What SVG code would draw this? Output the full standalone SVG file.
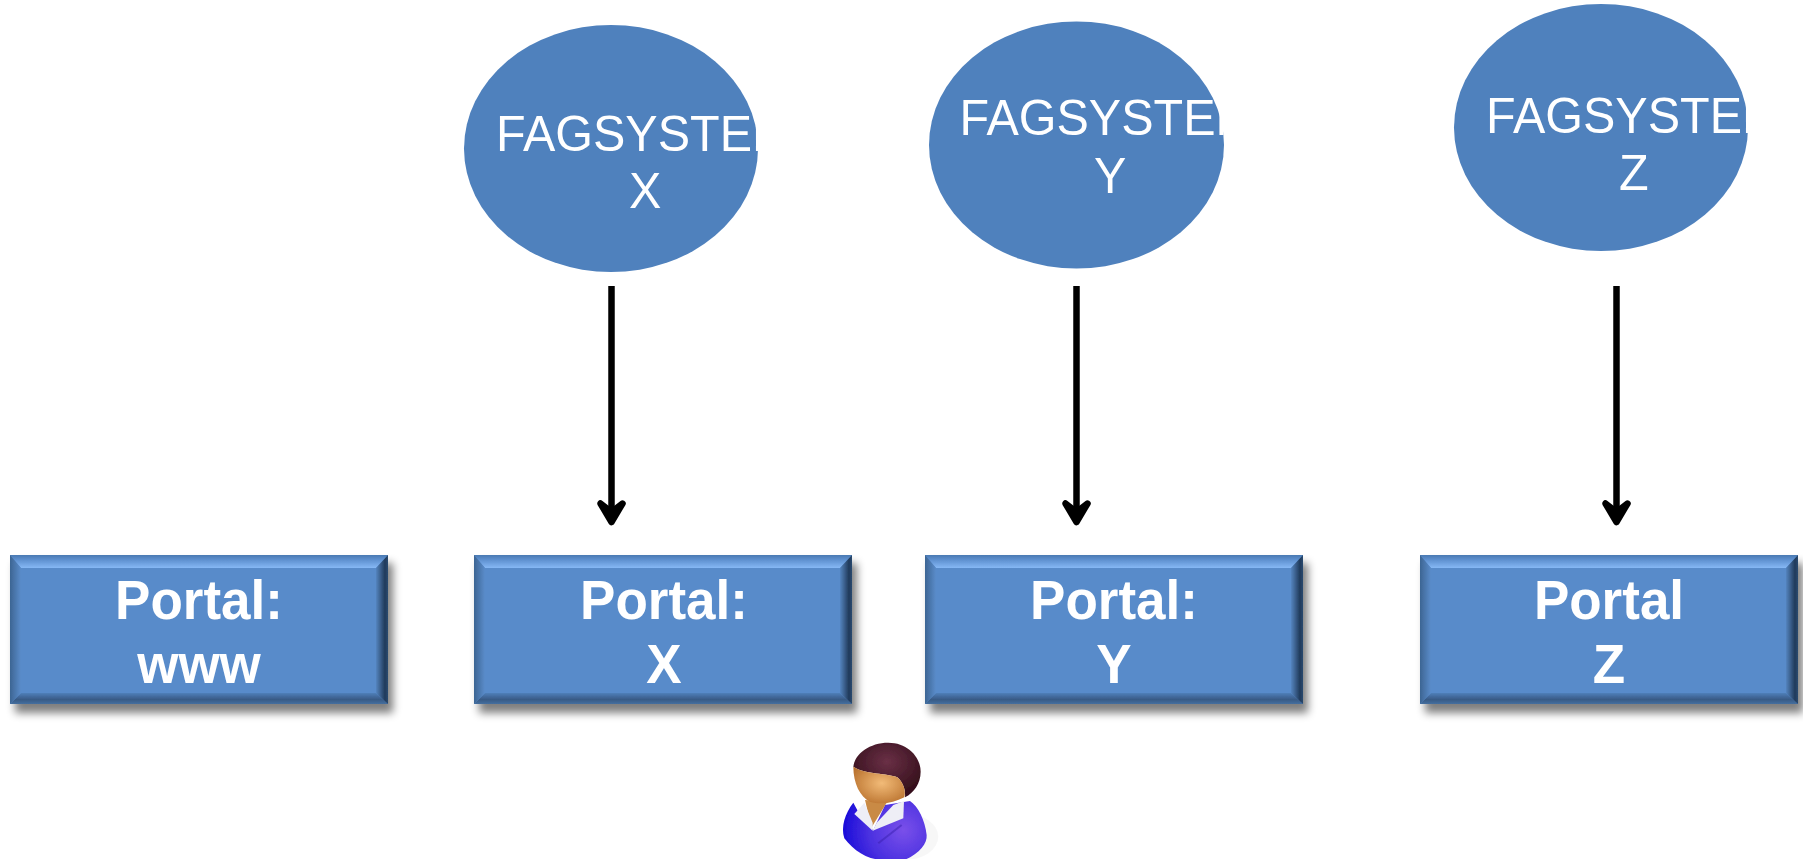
<svg xmlns="http://www.w3.org/2000/svg" width="1803" height="859" viewBox="0 0 1803 859">
<style>
.sys{fill:#4f81bd}
.st{font:48.5px "Liberation Sans",Arial,sans-serif;fill:#fff}
.pt{font:bold 53px "Liberation Sans",Arial,sans-serif;fill:#fff;text-anchor:middle}
.arr{fill:none;stroke:#000;stroke-width:6.500}
.hd{fill:#000;stroke:#000;stroke-width:6.500;stroke-linejoin:round}
</style>
<defs>
<filter id="sh" x="-5%" y="-15%" width="112%" height="130%"><feGaussianBlur stdDeviation="4.500"/></filter>
<filter id="soft" x="-10%" y="-10%" width="120%" height="120%"><feGaussianBlur stdDeviation="2.200"/></filter>
<filter id="b1" x="-5%" y="-5%" width="110%" height="110%"><feGaussianBlur stdDeviation="0.700"/></filter>
<linearGradient id="top" x1="0" y1="0" x2="0" y2="1"><stop offset="0" stop-color="#4a79b2"/><stop offset="0.35" stop-color="#5d8fce"/><stop offset="1" stop-color="#86b8f5"/></linearGradient>
<linearGradient id="bot" x1="0" y1="0" x2="0" y2="1"><stop offset="0" stop-color="#4f7fb9"/><stop offset="0.6" stop-color="#385a85"/><stop offset="1" stop-color="#456f9f"/></linearGradient>
<linearGradient id="rgt" x1="0" y1="0" x2="1" y2="0"><stop offset="0" stop-color="#5484bf"/><stop offset="0.75" stop-color="#203a5a"/><stop offset="1" stop-color="#2a4a70"/></linearGradient>
<linearGradient id="lft" x1="0" y1="0" x2="1" y2="0"><stop offset="0" stop-color="#3d6593"/><stop offset="1" stop-color="#5a8cca"/></linearGradient>
<radialGradient id="hair" cx="0.5" cy="0.35" r="0.6"><stop offset="0" stop-color="#6a3046"/><stop offset="1" stop-color="#36101c"/></radialGradient>
<radialGradient id="face" cx="0.55" cy="0.45" r="0.65"><stop offset="0" stop-color="#f2bb78"/><stop offset="1" stop-color="#b8702c"/></radialGradient>
<radialGradient id="shirt" gradientUnits="userSpaceOnUse" cx="280" cy="270" r="190"><stop offset="0" stop-color="#7a50ea"/><stop offset="0.55" stop-color="#4a30e0"/><stop offset="1" stop-color="#1408d8"/></radialGradient>
<g id="box">
<rect x="5" y="8" width="378" height="150" fill="#000" opacity="0.5" filter="url(#sh)"/>
<g filter="url(#b1)">
<rect width="378" height="149" fill="#588bca"/>
<polygon points="0,0 378,0 366,13 11,13" fill="url(#top)"/>
<polygon points="0,149 378,149 366,138 11,138" fill="url(#bot)"/>
<polygon points="0,0 0,149 11,138 11,13" fill="url(#lft)"/>
<polygon points="378,0 378,149 366,138 366,13" fill="url(#rgt)"/>
</g>
</g>
<clipPath id="cx"><rect x="460" y="100" width="298" height="60"/></clipPath>
<clipPath id="cy"><rect x="925" y="90" width="299" height="60"/></clipPath>
<clipPath id="cz"><rect x="1450" y="90" width="299" height="60"/></clipPath>
</defs>

<g id="connectors">
<path class="arr" d="M611.500 286V510"/><path class="hd" d="M600.500 503.500 L611.500 522 L622.500 503.500 L611.500 512Z"/>
<path class="arr" d="M1076.500 286V510"/><path class="hd" d="M1065.500 503.500 L1076.500 522 L1087.500 503.500 L1076.500 512Z"/>
<path class="arr" d="M1616.500 286V510"/><path class="hd" d="M1605.500 503.500 L1616.500 522 L1627.500 503.500 L1616.500 512Z"/>
</g>

<g id="system-x"><ellipse class="sys" cx="611" cy="148.500" rx="147" ry="123.500"/>
<g clip-path="url(#cx)"><text class="st" transform="translate(496 151) scale(1 1.03)">FAGSYSTEM</text></g><text class="st" transform="translate(629 208) scale(1 1.03)">X</text></g>
<g id="system-y"><ellipse class="sys" cx="1076.500" cy="145" rx="147.500" ry="123.500"/>
<g clip-path="url(#cy)"><text class="st" transform="translate(959.500 135) scale(1 1.03)">FAGSYSTEM</text></g><text class="st" transform="translate(1094 193) scale(1 1.03)">Y</text></g>
<g id="system-z"><ellipse class="sys" cx="1601" cy="127.500" rx="147" ry="123.500"/>
<g clip-path="url(#cz)"><text class="st" transform="translate(1486 133) scale(1 1.03)">FAGSYSTEM</text></g><text class="st" transform="translate(1619 190) scale(1 1.03)">Z</text></g>

<g id="portal-www"><use href="#box" x="10" y="555"/><text class="pt" transform="translate(199 619) scale(1 1.05)">Portal:</text><text class="pt" transform="translate(199 683) scale(1 1.05)">www</text></g>
<g id="portal-x"><use href="#box" x="474" y="555"/><text class="pt" transform="translate(664 619) scale(1 1.05)">Portal:</text><text class="pt" transform="translate(664 683) scale(1 1.05)">X</text></g>
<g id="portal-y"><use href="#box" x="925" y="555"/><text class="pt" transform="translate(1114 619) scale(1 1.05)">Portal:</text><text class="pt" transform="translate(1114 683) scale(1 1.05)">Y</text></g>
<g id="portal-z"><use href="#box" x="1420" y="555"/><text class="pt" transform="translate(1609 619) scale(1 1.05)">Portal</text><text class="pt" transform="translate(1609 683) scale(1 1.05)">Z</text></g>

<g id="user" transform="translate(810 740) scale(0.3333)">
<g filter="url(#soft)">
<ellipse cx="285" cy="290" rx="100" ry="70" fill="#000" opacity="0.03"/>
<path d="M130 188 C105 220 92 260 103 295 C130 330 170 359 215 359 H285 C330 340 352 310 350 285 C345 240 325 200 300 183 L225 195 L190 270 L150 225Z" fill="url(#shirt)"/>
<path d="M205 310 L275 255" stroke="#3a20b0" stroke-width="6" fill="none" opacity="0.5"/>
<path d="M165 180 L185 262 L232 185Z" fill="#c98a45"/>
<path d="M133 222 L163 188 L188 248 L188 272Z" fill="#eeeef6"/>
<path d="M188 272 L200 248 L250 195 L282 183 L280 235Z" fill="#eeeef6"/>
<path d="M130 80 C135 40 180 8 235 8 C292 8 332 50 332 95 C332 130 312 158 285 172 C287 150 280 128 262 112 C230 98 170 105 130 80Z" fill="url(#hair)"/>
<path d="M130 80 C170 105 230 98 262 112 C282 130 288 155 283 172 C250 190 210 195 180 185 C150 170 130 130 130 80Z" fill="url(#face)"/>
</g>
</g>
</svg>
